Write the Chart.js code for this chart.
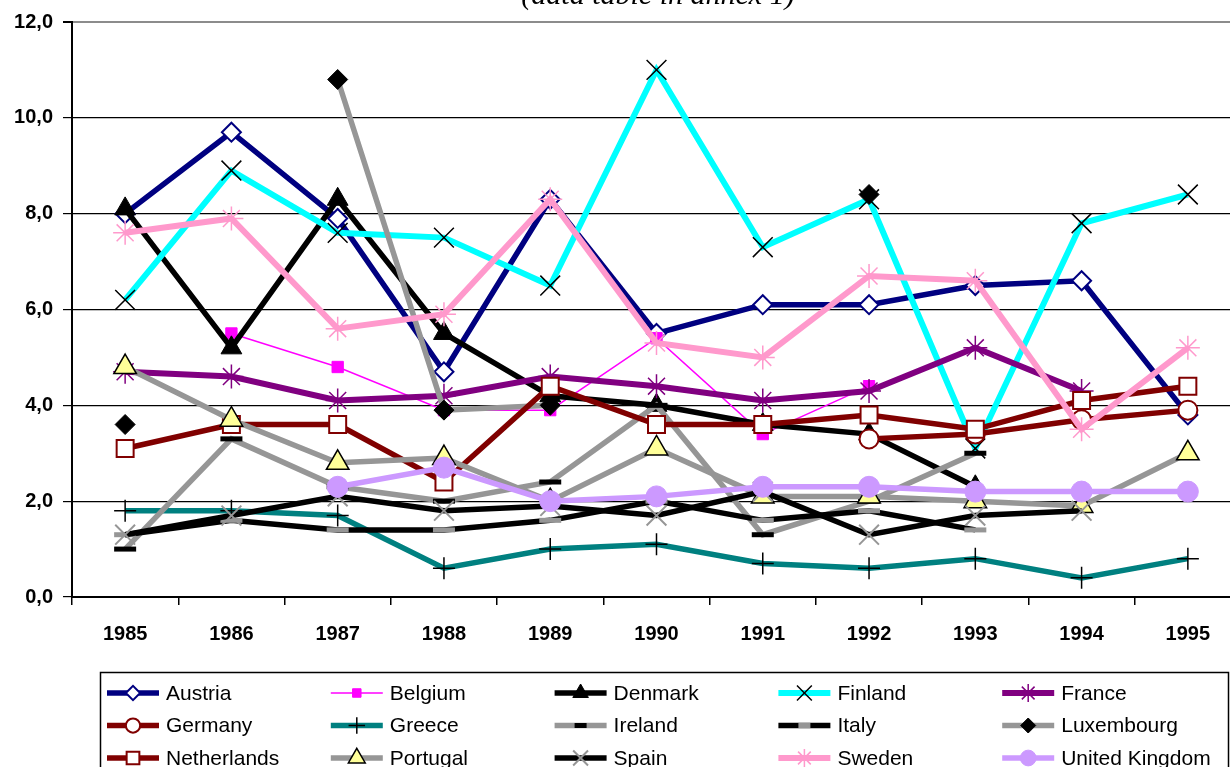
<!DOCTYPE html>
<html>
<head>
<meta charset="utf-8">
<script src="https://cdn.jsdelivr.net/npm/chart.js@4/dist/chart.umd.min.js"></script>
<style>
    html, body { margin: 0; padding: 0; background: #fff; overflow: hidden; }
    #wrap { position: relative; width: 1230px; height: 767px; overflow: hidden; }
    #chart { position: absolute; left: 0; top: 0; }
</style>
</head>
<body>
<div id="wrap"><canvas id="chart" width="1257" height="767"></canvas></div>
<script>
const titleText = '(data table in annex 1)'
const years = ['1985', '1986', '1987', '1988', '1989', '1990', '1991', '1992', '1993', '1994', '1995']
const yTicks = [0, 2, 4, 6, 8, 10, 12]

const austria = [8.0, 9.7, 7.9, 4.7, 8.3, 5.5, 6.1, 6.1, 6.5, 6.6, 3.8]
const belgium = [null, 5.5, 4.8, 3.9, 3.9, 5.4, 3.4, 4.4, null, null, null]
const denmark = [8.1, 5.2, 8.3, 5.5, 4.2, 4.0, 3.6, 3.4, 2.3, null, null]
const finland = [6.2, 8.9, 7.6, 7.5, 6.5, 11.0, 7.3, 8.3, 3.1, 7.8, 8.4]
const france = [4.7, 4.6, 4.1, 4.2, 4.6, 4.4, 4.1, 4.3, 5.2, 4.3, null]
const germany = [null, null, null, null, null, null, null, 3.3, 3.4, 3.7, 3.9]
const greece = [1.8, 1.8, 1.7, 0.6, 1.0, 1.1, 0.7, 0.6, 0.8, 0.4, 0.8]
const ireland = [1.0, 3.3, 2.3, 2.0, 2.4, 4.0, 1.3, 2.0, 3.0, null, null]
const italy = [1.3, 1.6, 1.4, 1.4, 1.6, 2.0, 1.6, 1.8, 1.4, null, null]
const luxembourg = [3.6, null, 10.8, 3.9, 4.0, null, null, 8.4, null, null, null]
const netherlands = [3.1, 3.6, 3.6, 2.4, 4.4, 3.6, 3.6, 3.8, 3.5, 4.1, 4.4]
const portugal = [4.8, 3.7, 2.8, 2.9, 2.0, 3.1, 2.1, 2.1, 2.0, 1.9, 3.0]
const spain = [1.3, 1.7, 2.1, 1.8, 1.9, 1.7, 2.2, 1.3, 1.7, 1.8, null]
const sweden = [7.6, 7.9, 5.6, 5.9, 8.3, 5.3, 5.0, 6.7, 6.6, 3.5, 5.2]
const unitedKingdom = [null, null, 2.3, 2.7, 2.0, 2.1, 2.3, 2.3, 2.2, 2.2, 2.2]

const GRAY = '#969696'
//
function series(label, data, line, width, style, radius, fill, stroke, strokeWidth) {
    return {
        label, data,
        borderColor: line,
        borderWidth: width,
        pointStyle: style,
        pointRadius: radius,
        pointBackgroundColor: fill,
        pointBorderColor: stroke,
        pointBorderWidth: strokeWidth,
        tension: 0,
        spanGaps: false,
        fill: false
    }
}

const datasets = [
    series('Austria', austria, '#000080', 5.5, 'rectRot', 9.5, '#ffffff', '#000080', 2),
    series('Belgium', belgium, '#ff00ff', 1.5, 'rect', 8, '#ff00ff', '#ff00ff', 1),
    series('Denmark', denmark, '#000000', 5.5, 'triangle', 12, '#000000', '#000000', 1),
    series('Finland', finland, '#00ffff', 6, 'crossRot', 14, 'rgba(0,0,0,0)', '#000000', 1.5),
    series('France', france, '#800080', 6, 'star', 12, 'rgba(0,0,0,0)', '#800080', 1.5),
    series('Germany', germany, '#800000', 5.5, 'circle', 9.5, '#ffffff', '#800000', 2),
    series('Greece', greece, '#008080', 5.5, 'cross', 11, 'rgba(0,0,0,0)', '#000000', 1.5),
    series('Ireland', ireland, GRAY, 5.5, 'line', 11, '#000000', '#000000', 5),
    series('Italy', italy, '#000000', 5.5, 'line', 11, GRAY, GRAY, 5),
    series('Luxembourg', luxembourg, GRAY, 5.5, 'rectRot', 10, '#000000', '#000000', 1),
    series('Netherlands', netherlands, '#800000', 5.5, 'rect', 12, '#ffffff', '#800000', 2),
    series('Portugal', portugal, GRAY, 5.5, 'triangle', 13, '#ffff99', '#000000', 1.5),
    series('Spain', spain, '#000000', 5.5, 'crossRot', 14, 'rgba(0,0,0,0)', GRAY, 2),
    series('Sweden', sweden, '#ff99cc', 6, 'star', 12, 'rgba(0,0,0,0)', '#ff99cc', 1.5),
    series('United Kingdom', unitedKingdom, '#cc99ff', 5.5, 'circle', 10.5, '#cc99ff', '#cc99ff', 1)
]
// excel draws later series on top
datasets.forEach((d, i) => { d.order = -i })

// title is cut off by the top edge of the picture
const cutTitle = {
    id: 'cutTitle',
    afterDraw(chart) {
        const ctx = chart.ctx
        ctx.save()
        ctx.font = 'italic 30px "Liberation Serif", "Times New Roman", serif'
        ctx.textAlign = 'center'
        ctx.textBaseline = 'alphabetic'
        ctx.fillStyle = '#000'
        ctx.fillText(titleText, 658, 4)
        ctx.restore()
    }
}

// boxed legend, 5 columns x 3 rows
const gridLegend = {
    id: 'gridLegend',
    afterDraw(chart) {
        const ctx = chart.ctx
        ctx.save()
        ctx.fillStyle = '#fff'
        ctx.fillRect(100, 672, 1129, 100)
        ctx.strokeStyle = '#000'
        ctx.lineWidth = 1.5
        ctx.strokeRect(100.5, 672.5, 1128, 120)
        ctx.font = '21px "Liberation Sans", Arial, sans-serif'
        ctx.textBaseline = 'middle'
        chart.data.datasets.forEach((ds, i) => {
            const col = i % 5
            const row = Math.floor(i / 5)
            const x = 107 + col * 223.8
            const y = 693 + row * 32.5
            ctx.strokeStyle = ds.borderColor
            ctx.lineWidth = ds.borderWidth
            ctx.beginPath()
            ctx.moveTo(x, y)
            ctx.lineTo(x + 52, y)
            ctx.stroke()
            ctx.fillStyle = ds.pointBackgroundColor
            ctx.strokeStyle = ds.pointBorderColor
            ctx.lineWidth = ds.pointBorderWidth
            const r = ds.pointStyle === 'line' ? 6 : ds.pointRadius * 0.75
            Chart.helpers.drawPoint(ctx, {
                pointStyle: ds.pointStyle,
                radius: r,
                rotation: 0,
                borderWidth: ds.pointStyle === 'line' ? 4 : ds.pointBorderWidth
            }, x + 26, y)
            ctx.fillStyle = '#000'
            ctx.fillText(ds.label, x + 59, y + 1)
        })
        ctx.restore()
    }
}

new Chart(document.getElementById('chart'), {
    type: 'line',
    data: { labels: years, datasets },
    plugins: [cutTitle, gridLegend],
    options: {
        responsive: false,
        animation: false,
        events: [],
        layout: { padding: { top: 22, left: 0, right: 0, bottom: 0 } },
        plugins: {
            legend: { display: false },
            tooltip: { enabled: false },
            title: { display: false }
        },
        scales: {
            x: {
                type: 'category',
                offset: true,
                grid: {
                    offset: true,
                    drawOnChartArea: false,
                    drawTicks: true,
                    tickLength: 8,
                    color: '#000',
                    lineWidth: 1.5
                },
                border: { display: true, color: '#000', width: 2 },
                ticks: {
                    color: '#000',
                    padding: 17,
                    maxRotation: 0,
                    autoSkip: false,
                    font: { family: '"Liberation Sans", Arial, sans-serif', size: 20, weight: 'bold' }
                },
                afterFit(scale) { scale.height = 170 }
            },
            y: {
                min: 0,
                max: 12,
                afterBuildTicks(scale) { scale.ticks = yTicks.map(v => ({ value: v })) },
                grid: {
                    color: ctx => ctx.tick && ctx.tick.value === 12 ? '#8c8c8c' : '#000',
                    lineWidth: ctx => ctx.tick && ctx.tick.value === 12 ? 2 : 1.2,
                    tickLength: 9,
                    tickColor: '#000'
                },
                border: { display: true, color: '#000', width: 2 },
                ticks: {
                    color: '#000',
                    padding: 10,
                    callback: v => v.toFixed(1).replace('.', ','),
                    font: { family: '"Liberation Sans", Arial, sans-serif', size: 20, weight: 'bold' }
                },
                afterFit(scale) { scale.width = 72 }
            }
        }
    }
})
</script>
</body>
</html>
